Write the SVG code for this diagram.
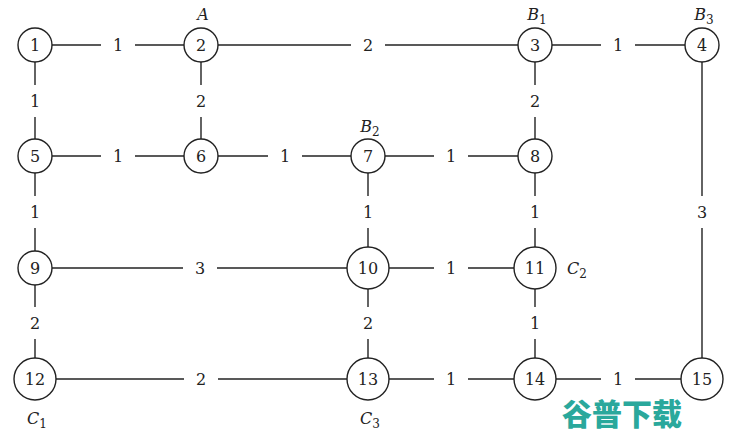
<svg xmlns="http://www.w3.org/2000/svg" width="740" height="436" viewBox="0 0 740 436">
<style>
.e{stroke:#222;stroke-width:1.4;fill:none}
.n circle{fill:#fff;stroke:#222;stroke-width:1.4}
.n text{font-family:"DejaVu Serif","Liberation Serif",serif;font-size:16px;fill:#222;text-anchor:middle;dominant-baseline:central}
.w text{font-family:"DejaVu Serif","Liberation Serif",serif;font-size:16px;fill:#222;text-anchor:middle;dominant-baseline:central}
.w rect{fill:#fff}
.l{font-family:"DejaVu Serif","Liberation Serif",serif;font-size:16px;font-style:italic;fill:#222;text-anchor:middle}
.l tspan.s{font-style:normal;font-size:12px}
.wm{font-family:"Noto Sans CJK SC",sans-serif;font-weight:900;font-size:30px;fill:#2aa89c}
</style>
<rect width="740" height="436" fill="#fff"/>
<g id="connectors">
<line class="e" x1="35" y1="45" x2="201" y2="45"/>
<line class="e" x1="201" y1="45" x2="535" y2="45"/>
<line class="e" x1="535" y1="45" x2="702" y2="45"/>
<line class="e" x1="35" y1="45" x2="35" y2="156"/>
<line class="e" x1="201" y1="45" x2="201" y2="156"/>
<line class="e" x1="535" y1="45" x2="535" y2="156"/>
<line class="e" x1="702" y1="45" x2="702" y2="379"/>
<line class="e" x1="35" y1="156" x2="535" y2="156"/>
<line class="e" x1="35" y1="156" x2="35" y2="379"/>
<line class="e" x1="368" y1="156" x2="368" y2="379"/>
<line class="e" x1="535" y1="156" x2="535" y2="379"/>
<line class="e" x1="35" y1="268" x2="535" y2="268"/>
<line class="e" x1="35" y1="379" x2="702" y2="379"/>
<g class="w">
<rect x="101" y="30" width="34" height="30"/><text x="118" y="45">1</text>
<rect x="351" y="30" width="34" height="30"/><text x="368" y="45">2</text>
<rect x="601" y="30" width="34" height="30"/><text x="618" y="45">1</text>
<rect x="20" y="85" width="30" height="32"/><text x="35" y="101">1</text>
<rect x="186" y="85" width="30" height="32"/><text x="201" y="101">2</text>
<rect x="520" y="85" width="30" height="32"/><text x="535" y="101">2</text>
<rect x="101" y="141" width="34" height="30"/><text x="118" y="156">1</text>
<rect x="268" y="141" width="34" height="30"/><text x="285" y="156">1</text>
<rect x="434" y="141" width="34" height="30"/><text x="451" y="156">1</text>
<rect x="20" y="196" width="30" height="32"/><text x="35" y="212">1</text>
<rect x="353" y="196" width="30" height="32"/><text x="368" y="212">1</text>
<rect x="520" y="196" width="30" height="32"/><text x="535" y="212">1</text>
<rect x="687" y="196" width="30" height="32"/><text x="702" y="212">3</text>
<rect x="183" y="253" width="34" height="30"/><text x="200" y="268">3</text>
<rect x="434" y="253" width="34" height="30"/><text x="451" y="268">1</text>
<rect x="20" y="307" width="30" height="32"/><text x="35" y="323">2</text>
<rect x="353" y="307" width="30" height="32"/><text x="368" y="323">2</text>
<rect x="520" y="307" width="30" height="32"/><text x="535" y="323">1</text>
<rect x="184" y="364" width="34" height="30"/><text x="201" y="379">2</text>
<rect x="434" y="364" width="34" height="30"/><text x="451" y="379">1</text>
<rect x="601" y="364" width="34" height="30"/><text x="618" y="379">1</text>
</g>
</g>
<g id="n1" class="n"><circle cx="35" cy="45" r="17"/><text x="35" y="45">1</text></g>
<g id="n2" class="n"><circle cx="201" cy="45" r="17"/><text x="201" y="45">2</text></g>
<g id="n3" class="n"><circle cx="535" cy="45" r="17"/><text x="535" y="45">3</text></g>
<g id="n4" class="n"><circle cx="702" cy="45" r="17"/><text x="702" y="45">4</text></g>
<g id="n5" class="n"><circle cx="35" cy="156" r="17"/><text x="35" y="156">5</text></g>
<g id="n6" class="n"><circle cx="201" cy="156" r="17"/><text x="201" y="156">6</text></g>
<g id="n7" class="n"><circle cx="368" cy="156" r="17"/><text x="368" y="156">7</text></g>
<g id="n8" class="n"><circle cx="535" cy="156" r="17"/><text x="535" y="156">8</text></g>
<g id="n9" class="n"><circle cx="35" cy="268" r="17"/><text x="35" y="268">9</text></g>
<g id="n10" class="n"><circle cx="368" cy="268" r="21"/><text x="368" y="268">10</text></g>
<g id="n11" class="n"><circle cx="535" cy="268" r="21"/><text x="535" y="268">11</text></g>
<g id="n12" class="n"><circle cx="35" cy="379" r="21"/><text x="35" y="379">12</text></g>
<g id="n13" class="n"><circle cx="368" cy="379" r="21"/><text x="368" y="379">13</text></g>
<g id="n14" class="n"><circle cx="535" cy="379" r="21"/><text x="535" y="379">14</text></g>
<g id="n15" class="n"><circle cx="702" cy="379" r="21"/><text x="702" y="379">15</text></g>
<g id="labels">
<text class="l" x="203" y="20">A</text>
<text class="l" x="537" y="20">B<tspan class="s" dy="4">1</tspan></text>
<text class="l" x="704" y="20">B<tspan class="s" dy="4">3</tspan></text>
<text class="l" x="370" y="132">B<tspan class="s" dy="4">2</tspan></text>
<text class="l" x="577" y="274">C<tspan class="s" dy="4">2</tspan></text>
<text class="l" x="37" y="424">C<tspan class="s" dy="4">1</tspan></text>
<text class="l" x="370" y="424">C<tspan class="s" dy="4">3</tspan></text>
</g>
<text class="wm" x="562" y="425">谷普下载</text>
</svg>
